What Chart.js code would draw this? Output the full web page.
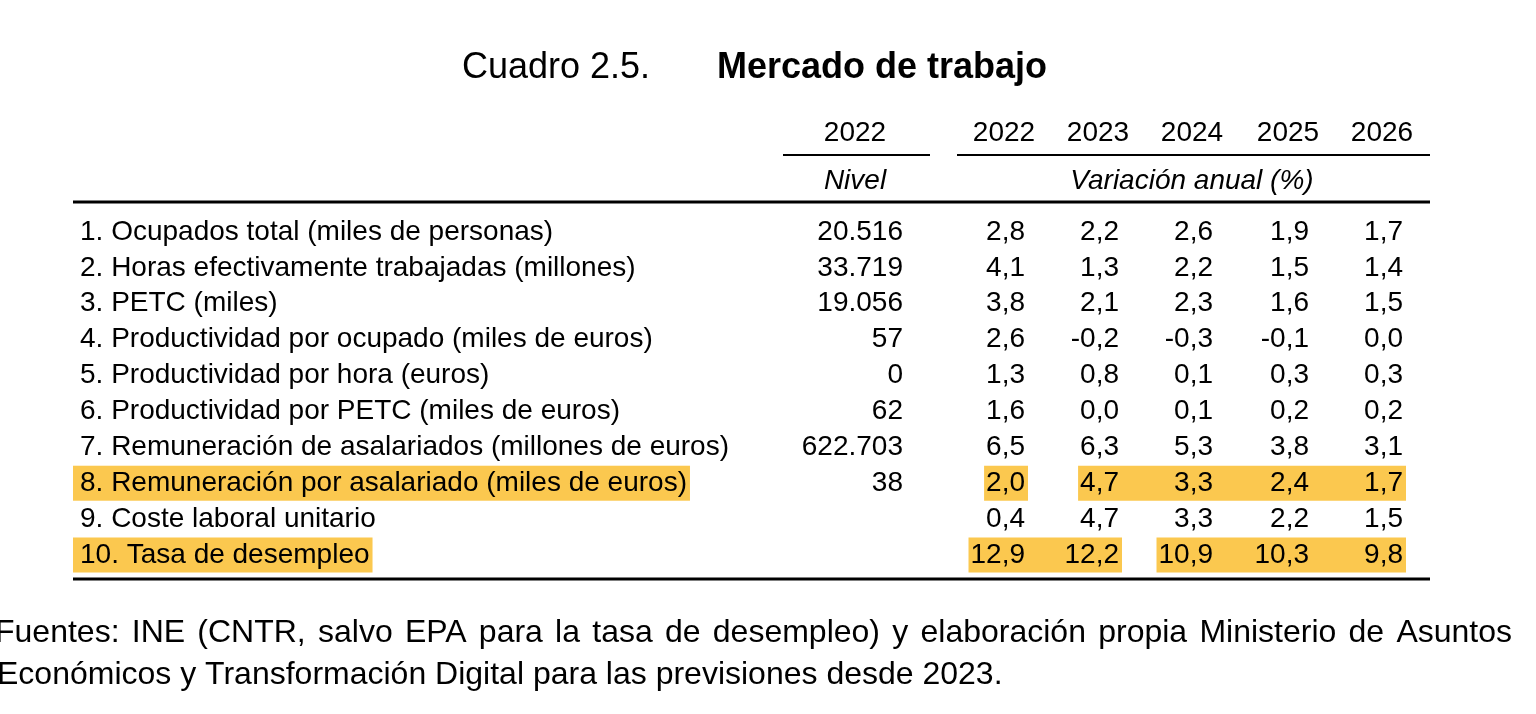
<!DOCTYPE html>
<html><head><meta charset="utf-8">
<script src="https://cdn.jsdelivr.net/npm/chart.js@4.4.1/dist/chart.umd.min.js"></script>
<style>html,body{margin:0;padding:0;background:#fff;overflow:hidden}canvas{display:block}</style>
</head><body>
<canvas id="c" width="1536" height="714"></canvas>
<script>
// ---------- DATA ----------
const titleNumber = 'Cuadro 2.5.';
const titleText = 'Mercado de trabajo';
const rowLabels = [
  '1. Ocupados total (miles de personas)',
  '2. Horas efectivamente trabajadas (millones)',
  '3. PETC (miles)',
  '4. Productividad por ocupado (miles de euros)',
  '5. Productividad por hora (euros)',
  '6. Productividad por PETC (miles de euros)',
  '7. Remuneración de asalariados (millones de euros)',
  '8. Remuneración por asalariado (miles de euros)',
  '9. Coste laboral unitario',
  '10. Tasa de desempleo'
];
const levelYear = '2022';
const levelHeader = 'Nivel';
const years = ['2022', '2023', '2024', '2025', '2026'];
const changeHeader = 'Variación anual (%)';
const level2022  = [20516, 33719, 19056, 57, 0, 62, 622703, 38, null, null];
const change2022 = [2.8, 4.1, 3.8, 2.6, 1.3, 1.6, 6.5, 2.0, 0.4, 12.9];
const change2023 = [2.2, 1.3, 2.1, -0.2, 0.8, 0.0, 6.3, 4.7, 4.7, 12.2];
const change2024 = [2.6, 2.2, 2.3, -0.3, 0.1, 0.1, 5.3, 3.3, 3.3, 10.9];
const change2025 = [1.9, 1.5, 1.6, -0.1, 0.3, 0.2, 3.8, 2.4, 2.2, 10.3];
const change2026 = [1.7, 1.4, 1.5, 0.0, 0.3, 0.2, 3.1, 1.7, 1.5, 9.8];
const highlightedRows = [7, 9];
const highlightSpans = [[7, '2022', '2022'], [7, '2023', '2026'], [9, '2022', '2023'], [9, '2024', '2026']];
const sourceNote = [
  'Fuentes: INE (CNTR, salvo EPA para la tasa de desempleo) y elaboración propia Ministerio de Asuntos',
  'Económicos y Transformación Digital para las previsiones desde 2023.'
];

// ---------- STYLE / LAYOUT ----------
const FONT = '"Liberation Sans", Arial, Helvetica, sans-serif';
const BODY = 28;
const HL = '#FBC84F';
const changes = [change2022, change2023, change2024, change2025, change2026];
// right-edge anchors of columns (x scale units = px)
const levelRight = 903;
const yearRight = [1025, 1119, 1213, 1309, 1403];
const lineLeft = 73, lineRight = 1430;

const fmtLevel = v => v === null ? '' : String(Math.round(v)).replace(/\B(?=(\d{3})+(?!\d))/g, '.');
const fmtChange = v => v === null ? '' : v.toFixed(1).replace('.', ',');

const mctx = document.createElement('canvas').getContext('2d');
mctx.font = BODY + 'px ' + FONT;
const tw = s => mctx.measureText(s).width;

const spanDatasets = highlightSpans.map(([row, from, to]) => {
  const a = years.indexOf(from), b = years.indexOf(to);
  const left = yearRight[a] - tw(fmtChange(changes[a][row])) - 2;
  const right = yearRight[b] + 3;
  return {
    data: rowLabels.map((_, i) => i === row ? [left, right] : null),
    backgroundColor: HL, borderWidth: 0, grouped: false, clip: false,
    categoryPercentage: 1, barPercentage: 0.975
  };
});

function justify(ctx, text, x, y, width) {
  const words = text.split(' ');
  const total = words.reduce((s, w) => s + ctx.measureText(w).width, 0);
  const gap = Math.max((width - total) / (words.length - 1), ctx.measureText(' ').width * 0.7);
  let cx = x;
  ctx.textAlign = 'left';
  words.forEach(w => { ctx.fillText(w, cx, y); cx += ctx.measureText(w).width + gap; });
}

const tablePlugin = {
  id: 'table',
  beforeDraw(chart) {
    const ctx = chart.ctx, ys = chart.scales.y;
    ctx.save();
    ctx.fillStyle = '#fff';
    ctx.fillRect(0, 0, chart.width, chart.height);
    ctx.font = BODY + 'px ' + FONT;
    ctx.fillStyle = HL;
    highlightedRows.forEach(r => {
      const py = ys.getPixelForValue(r);
      ctx.fillRect(ys.left - 7, py - 17.5, ctx.measureText(rowLabels[r]).width + 10, 35);
    });
    ctx.restore();
  },
  afterDatasetsDraw(chart) {
    const ctx = chart.ctx, xs = chart.scales.x, ys = chart.scales.y;
    const top = chart.chartArea.top, bottom = chart.chartArea.bottom;
    ctx.save();
    ctx.fillStyle = '#000';
    ctx.textBaseline = 'middle';
    ctx.font = BODY + 'px ' + FONT;
    ctx.textAlign = 'right';
    rowLabels.forEach((_, i) => {
      const py = ys.getPixelForValue(i);
      ctx.fillText(fmtLevel(level2022[i]), xs.getPixelForValue(levelRight), py);
      changes.forEach((col, j) => ctx.fillText(fmtChange(col[i]), xs.getPixelForValue(yearRight[j]), py));
    });
    // header
    ctx.textAlign = 'center';
    ctx.fillText(levelYear, xs.getPixelForValue(levelRight) - 48, top - 99);
    years.forEach((y, j) => ctx.fillText(y, xs.getPixelForValue(yearRight[j]) - 21, top - 99));
    ctx.font = 'italic ' + BODY + 'px ' + FONT;
    ctx.fillText(levelHeader, xs.getPixelForValue(levelRight) - 48, top - 51);
    ctx.fillText(changeHeader, xs.getPixelForValue(yearRight[2]) - 21, top - 51);
    // rules
    ctx.strokeStyle = '#000';
    const hline = (x1, x2, y, w) => { ctx.lineWidth = w; ctx.beginPath(); ctx.moveTo(x1, y); ctx.lineTo(x2, y); ctx.stroke(); };
    hline(783, 930, top - 77, 2);
    hline(957, lineRight, top - 77, 2);
    hline(lineLeft, lineRight, top - 30, 3);
    hline(lineLeft, lineRight, bottom + 24, 3);
    // title
    ctx.textAlign = 'left';
    ctx.font = '36px ' + FONT;
    ctx.fillText(titleNumber, 462, top - 164);
    ctx.font = 'bold 36px ' + FONT;
    ctx.fillText(titleText, 717, top - 164);
    // source note
    ctx.font = '32px ' + FONT;
    justify(ctx, sourceNote[0], -5, bottom + 78, 1517);
    ctx.fillText(sourceNote[1], -3, bottom + 120);
    ctx.restore();
  }
};

new Chart(document.getElementById('c'), {
  type: 'bar',
  data: { labels: rowLabels, datasets: spanDatasets },
  options: {
    indexAxis: 'y',
    responsive: false,
    animation: false,
    layout: { padding: { left: 80, right: 0, top: 232, bottom: 159 } },
    scales: {
      x: { type: 'linear', min: 745, max: 1536, display: false },
      y: {
        type: 'category', offset: false,
        grid: { display: false }, border: { display: false },
        ticks: { color: '#000', font: { family: FONT, size: BODY }, crossAlign: 'far', padding: 0, autoSkip: false },
        afterFit(s) { s.width = 665; }
      }
    },
    plugins: { legend: { display: false }, tooltip: { enabled: false }, title: { display: false } }
  },
  plugins: [tablePlugin]
});
</script>
</body></html>
